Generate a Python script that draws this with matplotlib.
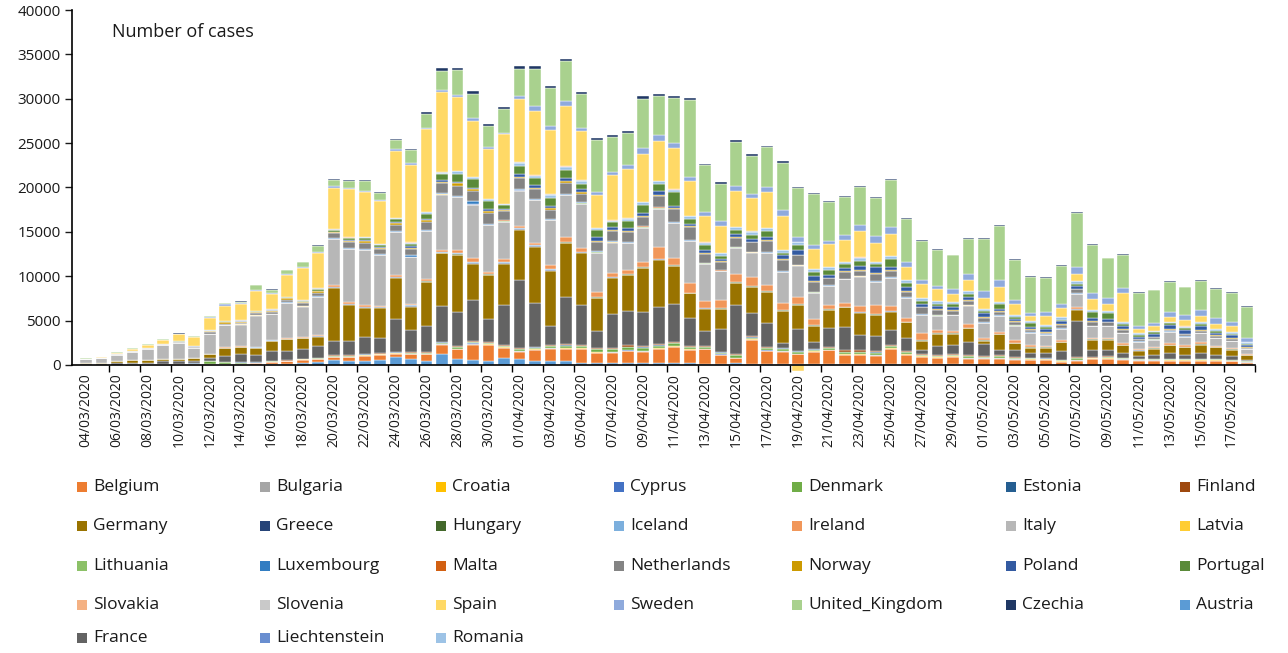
import matplotlib
matplotlib.use('Agg')
import matplotlib.pyplot as plt
import numpy as np
import pandas as pd
from matplotlib.patches import Rectangle

plt.rcParams['font.family'] = ['Open Sans', 'DejaVu Sans']

# ---------------- categories ----------------
dates = pd.date_range('2020-03-04', '2020-05-18', freq='D').strftime('%d/%m/%Y').tolist()

# ---------------- series values (daily new cases) ----------------
austria = [0, 40, 0, 10, 20, 20, 50, 50, 50, 50,
           50, 50, 150, 150, 250, 300, 550, 500, 450, 600,
           850, 650, 450, 1200, 650, 550, 450, 750, 650, 450,
           450, 450, 200, 200, 250, 250, 250, 250, 200, 200,
           100, 100, 200, 100, 100, 100, 100, 100, 100, 100,
           100, 100, 100, 80, 80, 80, 80, 80, 50, 50,
           50, 50, 50, 50, 50, 50, 50, 50, 50, 50,
           50, 50, 50, 50, 50, 30]
belgium = [0, 0, 20, 30, 50, 50, 50, 50, 80, 100,
           100, 150, 200, 250, 350, 400, 350, 400, 600, 550,
           400, 550, 750, 1100, 1100, 1750, 1800, 1200, 850, 1250,
           1400, 1350, 1600, 1150, 1150, 1300, 1250, 1550, 1850, 1500,
           1650, 1000, 550, 2700, 1450, 1400, 1100, 1350, 1550, 1000,
           1000, 950, 1650, 1050, 800, 700, 800, 650, 650, 650,
           550, 500, 500, 300, 450, 650, 650, 550, 450, 450,
           400, 400, 400, 400, 350, 250]
bulgaria = [0, 0, 0, 0, 0, 5, 5, 5, 5, 5,
            5, 10, 10, 10, 10, 10, 20, 20, 20, 20,
            20, 20, 20, 20, 20, 20, 20, 20, 30, 30,
            30, 30, 30, 30, 30, 30, 30, 30, 30, 30,
            30, 30, 30, 30, 30, 30, 40, 40, 40, 40,
            40, 40, 40, 40, 40, 40, 40, 40, 40, 40,
            30, 30, 30, 30, 30, 30, 30, 30, 30, 30,
            30, 30, 30, 30, 30, 30]
croatia = [0, 0, 0, 0, 0, 0, 0, 0, 5, 5,
           5, 5, 5, 10, 10, 10, 20, 20, 50, 30,
           50, 50, 50, 50, 50, 100, 50, 50, 50, 50,
           50, 100, 100, 50, 50, 50, 50, 50, 50, 50,
           50, 50, 50, 50, 50, 50, 50, 50, 50, 50,
           50, 50, 100, 50, 50, 50, 50, 50, 50, 100,
           50, 50, 50, 50, 50, 50, 100, 50, 50, 50,
           50, 50, 50, 50, 50, 30]
cyprus = [0, 0, 0, 0, 0, 0, 0, 0, 5, 5,
          5, 5, 5, 5, 5, 5, 10, 10, 10, 10,
          10, 10, 10, 10, 10, 10, 10, 10, 10, 10,
          10, 10, 10, 10, 10, 10, 10, 10, 10, 10,
          5, 5, 5, 5, 5, 5, 5, 5, 5, 5,
          5, 5, 5, 5, 5, 5, 5, 5, 5, 5,
          0, 0, 0, 0, 0, 0, 0, 0, 0, 0,
          0, 0, 0, 0, 0, 0]
denmark = [0, 10, 10, 20, 20, 20, 30, 60, 250, 150,
           100, 50, 50, 50, 50, 50, 50, 50, 50, 50,
           50, 50, 50, 100, 150, 150, 150, 100, 200, 150,
           150, 250, 200, 350, 300, 400, 350, 300, 300, 250,
           200, 200, 250, 200, 250, 250, 200, 200, 200, 300,
           300, 250, 200, 200, 150, 150, 150, 150, 150, 150,
           150, 150, 100, 100, 200, 50, 100, 100, 100, 50,
           100, 100, 100, 100, 100, 100]
estonia = [0, 0, 0, 0, 0, 0, 0, 5, 10, 20,
           30, 30, 20, 20, 20, 30, 30, 30, 30, 30,
           30, 40, 50, 60, 50, 50, 40, 30, 40, 40,
           50, 40, 40, 40, 40, 40, 50, 40, 40, 40,
           40, 30, 30, 30, 30, 30, 30, 20, 20, 20,
           20, 20, 20, 20, 20, 10, 10, 10, 10, 10,
           10, 10, 10, 10, 10, 10, 10, 10, 5, 5,
           5, 5, 5, 5, 5, 5]
finland = [0, 0, 5, 5, 5, 10, 10, 20, 20, 30,
           40, 30, 30, 30, 30, 40, 50, 50, 40, 50,
           50, 60, 60, 80, 60, 50, 60, 70, 80, 100,
           100, 120, 100, 80, 100, 120, 150, 150, 100, 80,
           80, 100, 150, 150, 120, 100, 80, 80, 100, 120,
           150, 150, 100, 80, 80, 100, 100, 100, 80, 80,
           50, 50, 50, 60, 60, 50, 50, 40, 40, 40,
           40, 40, 40, 40, 30, 30]
france = [100, 60, 200, 150, 150, 400, 250, 300, 400, 700,
          850, 850, 1100, 1100, 1100, 1300, 1650, 1650, 1850, 1700,
          3750, 2500, 2900, 4000, 3850, 4700, 2650, 4500, 7700, 4950,
          2150, 5300, 4450, 1900, 3850, 3850, 3800, 4200, 4300, 3100,
          1700, 2550, 5450, 2550, 2650, 500, 2500, 800, 2150, 2600,
          1750, 1700, 1750, 1550, 450, 1050, 1000, 1550, 1300, 600,
          800, 550, 550, 950, 4100, 750, 650, 550, 250, 400,
          700, 500, 650, 500, 350, 100]
germany = [100, 80, 200, 300, 300, 150, 250, 250, 400, 850,
           850, 750, 1150, 1300, 1200, 1050, 6000, 4050, 3350, 3400,
           4600, 2650, 5000, 5950, 6450, 4050, 4900, 4700, 5600, 6300,
           6250, 6050, 5900, 3750, 4050, 4100, 5000, 5300, 4300, 2800,
           2500, 2250, 2550, 3000, 3500, 3650, 2650, 1750, 2000, 2250,
           2500, 2350, 2050, 1750, 1050, 1300, 1250, 1500, 400, 1800,
           750, 550, 600, 1000, 1300, 1200, 1200, 850, 650, 750,
           850, 850, 950, 800, 750, 550]
greece = [0, 0, 5, 5, 10, 10, 10, 10, 15, 15,
          20, 20, 20, 20, 30, 30, 30, 40, 40, 40,
          50, 50, 50, 60, 60, 60, 60, 60, 80, 60,
          50, 60, 50, 40, 40, 30, 30, 30, 30, 20,
          20, 20, 20, 20, 20, 20, 20, 20, 20, 20,
          20, 20, 20, 15, 15, 15, 15, 15, 15, 15,
          10, 10, 10, 10, 10, 10, 10, 10, 10, 10,
          10, 10, 10, 10, 10, 10]
hungary = [0, 0, 0, 0, 0, 0, 0, 0, 5, 5,
           5, 5, 5, 10, 10, 10, 20, 20, 20, 30,
           30, 30, 30, 40, 40, 40, 50, 50, 50, 50,
           50, 50, 50, 50, 50, 50, 60, 70, 80, 70,
           70, 70, 80, 80, 80, 80, 80, 80, 80, 80,
           80, 70, 70, 60, 60, 60, 50, 50, 50, 40,
           40, 40, 40, 30, 30, 30, 30, 30, 30, 30,
           30, 30, 30, 30, 30, 30]
iceland = [0, 0, 5, 5, 5, 5, 5, 10, 10, 10,
           20, 20, 20, 20, 20, 20, 30, 30, 50, 40,
           50, 60, 70, 80, 80, 80, 60, 60, 50, 60,
           50, 50, 40, 30, 30, 20, 20, 20, 20, 10,
           10, 10, 10, 10, 5, 5, 5, 5, 5, 5,
           5, 0, 0, 0, 0, 0, 0, 0, 0, 0,
           0, 0, 0, 0, 0, 0, 0, 0, 0, 0,
           0, 0, 0, 0, 0, 0]
ireland = [0, 0, 0, 0, 0, 0, 10, 10, 20, 50,
           30, 50, 50, 50, 50, 100, 200, 200, 150, 100,
           150, 200, 200, 250, 350, 450, 200, 300, 300, 300,
           450, 550, 400, 550, 400, 500, 500, 1350, 750, 1050,
           800, 950, 900, 1000, 750, 750, 750, 700, 400, 400,
           650, 1050, 550, 400, 750, 400, 250, 450, 250, 200,
           350, 250, 150, 200, 250, 200, 200, 200, 100, 150,
           200, 200, 250, 150, 150, 100]
italy = [420, 580, 680, 950, 1250, 1600, 1800, 1100, 2250, 2500,
         2450, 3550, 2900, 4000, 3450, 4300, 5200, 6000, 6250, 5700,
         4850, 5250, 5400, 6200, 6000, 6000, 5250, 4200, 3950, 4750,
         5050, 4700, 5000, 4400, 3450, 3000, 3900, 4250, 3950, 4750,
         4150, 3200, 2950, 2750, 3600, 3500, 3600, 2950, 2200, 2650,
         3300, 2600, 3150, 2250, 2100, 1600, 1800, 2050, 1700, 1800,
         1600, 1400, 1250, 1300, 1500, 1300, 1300, 1100, 850, 850,
         1250, 900, 1000, 850, 750, 550]
latvia = [0, 0, 0, 0, 0, 0, 0, 5, 5, 5,
          5, 5, 5, 10, 10, 10, 10, 10, 10, 10,
          20, 20, 20, 20, 20, 20, 20, 20, 20, 20,
          20, 20, 20, 20, 10, 10, 10, 10, 10, 10,
          10, 10, 10, 10, 10, 10, 10, 10, 10, 10,
          10, 10, 10, 10, 10, 5, 5, 5, 5, 5,
          5, 5, 5, 5, 5, 5, 5, 5, 5, 5,
          5, 5, 5, 5, 5, 5]
liechtenstein = [0, 0, 0, 0, 0, 0, 0, 0, 0, 0,
                 0, 0, 0, 0, 0, 5, 5, 5, 5, 5,
                 5, 5, 5, 5, 5, 5, 5, 5, 5, 5,
                 0, 0, 0, 0, 0, 0, 0, 0, 0, 0,
                 0, 0, 0, 0, 0, 0, 0, 0, 0, 0,
                 0, 0, 0, 0, 0, 0, 0, 0, 0, 0,
                 0, 0, 0, 0, 0, 0, 0, 0, 0, 0,
                 0, 0, 0, 0, 0, 0]
lithuania = [0, 0, 0, 0, 0, 0, 0, 0, 0, 0,
             5, 5, 5, 5, 10, 10, 10, 20, 20, 20,
             30, 30, 30, 30, 40, 40, 40, 50, 50, 50,
             50, 50, 40, 40, 40, 40, 40, 30, 30, 30,
             30, 20, 20, 20, 20, 20, 20, 20, 20, 20,
             20, 20, 20, 20, 20, 20, 20, 20, 10, 10,
             10, 10, 10, 10, 10, 10, 10, 10, 10, 10,
             10, 10, 10, 10, 10, 10]
luxembourg = [0, 0, 0, 0, 0, 0, 0, 0, 5, 5,
              10, 20, 20, 30, 40, 50, 80, 100, 100, 80,
              100, 150, 100, 100, 100, 300, 100, 100, 100, 100,
              100, 100, 100, 100, 100, 100, 100, 100, 100, 50,
              50, 50, 50, 50, 50, 50, 50, 50, 50, 50,
              50, 50, 50, 50, 50, 50, 50, 50, 50, 50,
              50, 50, 50, 50, 50, 50, 50, 50, 50, 50,
              50, 50, 50, 50, 50, 20]
malta = [0, 0, 0, 0, 0, 0, 0, 0, 0, 5,
         5, 5, 5, 5, 5, 5, 10, 10, 10, 10,
         10, 10, 10, 10, 10, 10, 10, 10, 10, 10,
         10, 10, 10, 10, 10, 10, 10, 10, 10, 10,
         5, 5, 5, 5, 5, 5, 5, 5, 5, 5,
         5, 5, 5, 5, 5, 5, 5, 5, 5, 5,
         5, 5, 5, 5, 5, 5, 5, 5, 5, 5,
         5, 5, 5, 5, 5, 5]
netherlands = [20, 20, 80, 100, 100, 100, 100, 150, 150, 150,
               150, 200, 250, 300, 300, 400, 500, 600, 650, 550,
               650, 700, 850, 1100, 1100, 1150, 1250, 1050, 1200, 1050,
               1000, 1200, 950, 1050, 1100, 1050, 1050, 1300, 1400, 1500,
               1050, 950, 1050, 1050, 1250, 1250, 1050, 1150, 750, 750,
               500, 850, 750, 600, 750, 550, 450, 400, 500, 400,
               300, 250, 200, 350, 400, 450, 350, 300, 200, 200,
               200, 250, 250, 200, 250, 100]
norway = [20, 20, 30, 30, 20, 30, 50, 50, 150, 200,
          150, 150, 100, 150, 100, 200, 150, 200, 200, 200,
          250, 150, 200, 200, 300, 200, 150, 100, 200, 150,
          200, 250, 200, 100, 100, 100, 150, 100, 100, 100,
          100, 100, 100, 100, 100, 100, 100, 100, 100, 100,
          100, 100, 100, 100, 100, 100, 100, 100, 100, 100,
          100, 100, 100, 100, 100, 100, 100, 100, 50, 50,
          50, 50, 50, 50, 50, 50]
poland = [0, 0, 0, 0, 10, 10, 10, 20, 20, 20,
          30, 30, 50, 50, 50, 50, 50, 50, 100, 100,
          100, 150, 200, 150, 150, 200, 200, 150, 250, 300,
          300, 350, 300, 450, 350, 350, 350, 400, 300, 250,
          300, 300, 300, 300, 300, 450, 550, 550, 300, 350,
          450, 600, 350, 450, 300, 350, 350, 400, 400, 250,
          250, 250, 300, 350, 300, 300, 250, 350, 250, 350,
          450, 400, 450, 300, 300, 250]
portugal = [0, 0, 0, 10, 10, 10, 20, 20, 30, 50,
            50, 50, 60, 50, 100, 150, 150, 250, 300, 250,
            400, 300, 550, 700, 850, 950, 950, 400, 950, 800,
            850, 850, 650, 800, 550, 800, 850, 800, 1550, 500,
            550, 300, 500, 450, 700, 250, 550, 450, 550, 400,
            650, 350, 850, 450, 300, 250, 250, 350, 250, 550,
            250, 400, 200, 150, 250, 650, 700, 200, 200, 150,
            200, 200, 250, 250, 200, 150]
romania = [0, 0, 0, 0, 0, 0, 10, 10, 20, 20,
           30, 30, 30, 30, 50, 50, 50, 50, 50, 50,
           50, 100, 150, 150, 350, 200, 200, 150, 350, 300,
           350, 400, 300, 200, 200, 250, 300, 350, 250, 350,
           300, 300, 300, 350, 350, 300, 300, 300, 300, 300,
           350, 300, 300, 300, 350, 300, 300, 300, 250, 200,
           200, 200, 200, 250, 250, 250, 250, 200, 200, 150,
           200, 200, 200, 150, 200, 150]
slovakia = [0, 0, 0, 0, 0, 0, 0, 5, 5, 5,
            10, 10, 10, 10, 10, 10, 10, 20, 20, 20,
            20, 20, 20, 20, 20, 20, 30, 30, 40, 40,
            30, 30, 30, 30, 30, 30, 30, 30, 30, 30,
            20, 20, 20, 20, 20, 20, 20, 20, 20, 20,
            10, 10, 10, 10, 10, 10, 10, 10, 10, 10,
            5, 5, 5, 5, 5, 5, 5, 5, 5, 5,
            5, 5, 5, 5, 5, 5]
slovenia = [0, 0, 0, 0, 0, 0, 0, 5, 10, 20,
            30, 30, 30, 30, 30, 30, 40, 40, 30, 30,
            30, 30, 30, 30, 30, 30, 30, 30, 30, 30,
            30, 30, 30, 30, 20, 20, 20, 20, 20, 20,
            20, 20, 20, 20, 20, 20, 20, 20, 10, 10,
            10, 10, 10, 10, 10, 10, 10, 10, 5, 5,
            5, 5, 5, 5, 5, 5, 5, 5, 5, 5,
            5, 5, 5, 5, 5, 5]
spain = [50, 60, 150, 200, 300, 400, 800, 1000, 1350, 1700,
         1800, 2250, 1700, 2500, 3600, 4000, 4700, 5400, 5000, 4800,
         7500, 8650, 9300, 9000, 8250, 6300, 5600, 7800, 7100, 7200,
         7300, 6750, 5550, 3700, 5050, 5600, 5400, 4500, 4600, 3900,
         3000, 3050, 4050, 3750, 4050, 3850, -700, 2200, 2550, 2450,
         3000, 2100, 2500, 1500, 1600, 1300, 850, 1250, 1250, 1700,
         1200, 550, 1050, 1050, 850, 1250, 800, 3300, 450, 500,
         550, 700, 650, 550, 650, 0]
sweden = [10, 10, 20, 30, 20, 20, 30, 50, 100, 150,
          100, 100, 100, 100, 100, 100, 150, 100, 150, 150,
          200, 300, 200, 250, 300, 350, 200, 200, 350, 600,
          400, 550, 400, 300, 400, 400, 650, 650, 550, 500,
          400, 500, 500, 500, 550, 650, 550, 550, 400, 550,
          650, 750, 750, 600, 450, 400, 550, 650, 800, 750,
          450, 350, 400, 450, 800, 650, 650, 550, 300, 350,
          550, 550, 650, 650, 450, 500]
united_kingdom = [50, 40, 100, 50, 50, 50, 50, 80, 100, 150,
                  200, 500, 400, 400, 600, 700, 700, 800, 1100, 750,
                  1100, 1450, 1500, 2150, 2800, 2650, 2450, 2600, 3100, 4200,
                  4300, 4500, 3750, 5900, 3900, 3650, 5600, 4400, 5150, 8700,
                  5250, 4250, 5000, 4300, 4450, 5300, 5500, 5650, 4350, 4250,
                  4300, 4300, 5300, 4850, 4400, 4050, 3800, 4000, 5800, 6100,
                  4600, 4150, 3900, 4300, 6100, 5400, 4450, 3800, 3800, 3700,
                  3350, 3150, 3350, 3350, 3300, 3500]
czechia = [0, 0, 10, 10, 10, 20, 20, 20, 30, 40,
           50, 50, 50, 50, 50, 50, 100, 150, 100, 100,
           100, 150, 250, 350, 250, 400, 200, 250, 250, 300,
           250, 300, 300, 200, 250, 200, 250, 250, 200, 200,
           200, 150, 200, 150, 200, 200, 150, 150, 150, 150,
           150, 150, 150, 100, 100, 100, 100, 100, 100, 100,
           100, 100, 100, 100, 100, 100, 100, 100, 100, 100,
           100, 100, 100, 100, 100, 50]

# stacking order, bottom to top
series = {
    'Austria': austria, 'Belgium': belgium, 'Bulgaria': bulgaria, 'Croatia': croatia,
    'Cyprus': cyprus, 'Denmark': denmark, 'Estonia': estonia, 'Finland': finland,
    'France': france, 'Germany': germany, 'Greece': greece, 'Hungary': hungary,
    'Iceland': iceland, 'Ireland': ireland, 'Italy': italy, 'Latvia': latvia,
    'Liechtenstein': liechtenstein, 'Lithuania': lithuania, 'Luxembourg': luxembourg,
    'Malta': malta, 'Netherlands': netherlands, 'Norway': norway, 'Poland': poland,
    'Portugal': portugal, 'Romania': romania, 'Slovakia': slovakia, 'Slovenia': slovenia,
    'Spain': spain, 'Sweden': sweden, 'United_Kingdom': united_kingdom, 'Czechia': czechia,
}

colors = {
    'Belgium': '#ED7D31', 'Bulgaria': '#A5A5A5', 'Croatia': '#FFC000', 'Cyprus': '#4472C4',
    'Denmark': '#70AD47', 'Estonia': '#255E91', 'Finland': '#9E480E', 'Germany': '#997300',
    'Greece': '#264478', 'Hungary': '#43682B', 'Iceland': '#7CAFDD', 'Ireland': '#F1975A',
    'Italy': '#B7B7B7', 'Latvia': '#FFCD33', 'Lithuania': '#8CC168', 'Luxembourg': '#327DC2',
    'Malta': '#D26012', 'Netherlands': '#848484', 'Norway': '#CC9A00', 'Poland': '#335AA1',
    'Portugal': '#5A8A39', 'Slovakia': '#F4B183', 'Slovenia': '#C9C9C9', 'Spain': '#FFD966',
    'Sweden': '#8FAADC', 'United_Kingdom': '#A9D18E', 'Czechia': '#203864', 'Austria': '#5B9BD5',
    'France': '#636363', 'Liechtenstein': '#698ED0', 'Romania': '#9DC3E6',
}

legend_rows = [
    ['Belgium', 'Bulgaria', 'Croatia', 'Cyprus', 'Denmark', 'Estonia', 'Finland'],
    ['Germany', 'Greece', 'Hungary', 'Iceland', 'Ireland', 'Italy', 'Latvia'],
    ['Lithuania', 'Luxembourg', 'Malta', 'Netherlands', 'Norway', 'Poland', 'Portugal'],
    ['Slovakia', 'Slovenia', 'Spain', 'Sweden', 'United_Kingdom', 'Czechia', 'Austria'],
    ['France', 'Liechtenstein', 'Romania'],
]

for k, v in series.items():
    if len(v) != len(dates):
        raise ValueError(f'{k} has {len(v)} values')

W, H = 1288, 653
fig = plt.figure(figsize=(W / 100, H / 100), dpi=100)
ax = fig.add_axes([72 / W, 1 - 365 / H, (1255 - 72) / W, 355 / H])

x = np.arange(len(dates))
pos = np.zeros(len(dates))
neg = np.zeros(len(dates))
for name, vals in series.items():
    v = np.array(vals, dtype=float)
    bottom = np.where(v >= 0, pos, neg)
    ax.bar(x, v, 0.76, bottom=bottom, color=colors[name], edgecolor='white',
           linewidth=0.3, clip_on=False, zorder=2)
    pos += np.clip(v, 0, None)
    neg += np.clip(v, None, 0)

ax.set_xlim(-0.9, 75.5)
ax.set_ylim(0, 40000)
ax.set_yticks(np.arange(0, 40001, 5000))
ax.tick_params(axis='y', labelsize=11, length=5, width=1, direction='out',
               colors='#1a1a1a', pad=3)
ax.set_xticks(x[::2])
ax.set_xticklabels(dates[::2], rotation=90, fontsize=10, color='#1a1a1a')
ax.tick_params(axis='x', which='major', length=0, pad=6)
ax.set_xticks(np.arange(1.5, 76, 2), minor=True)
ax.tick_params(axis='x', which='minor', length=5, width=1, direction='out', color='black')
for s in ['top', 'right']:
    ax.spines[s].set_visible(False)
for s in ['left', 'bottom']:
    ax.spines[s].set_color('black')
    ax.spines[s].set_linewidth(1.2)
    ax.spines[s].set_zorder(3)

fig.text(112 / W, 1 - 32 / H, 'Number of cases', fontsize=13, color='#1a1a1a',
         va='center', ha='left')

# legend laid out as in the reference (row-major, 7 columns)
col_x = [93, 276, 452, 630, 808, 1022, 1196]
row_y = [487, 526, 566, 605, 638]
for r, row in enumerate(legend_rows):
    for c, name in enumerate(row):
        tx = col_x[c]
        ty = row_y[r]
        fig.add_artist(Rectangle(((tx - 16) / W, 1 - (ty + 5) / H), 10 / W, 10 / H,
                                 transform=fig.transFigure, facecolor=colors[name],
                                 edgecolor='none'))
        fig.text(tx / W, 1 - ty / H, name, fontsize=12.5, color='#1a1a1a',
                 va='center', ha='left')

fig.savefig('out.png', dpi=100)
